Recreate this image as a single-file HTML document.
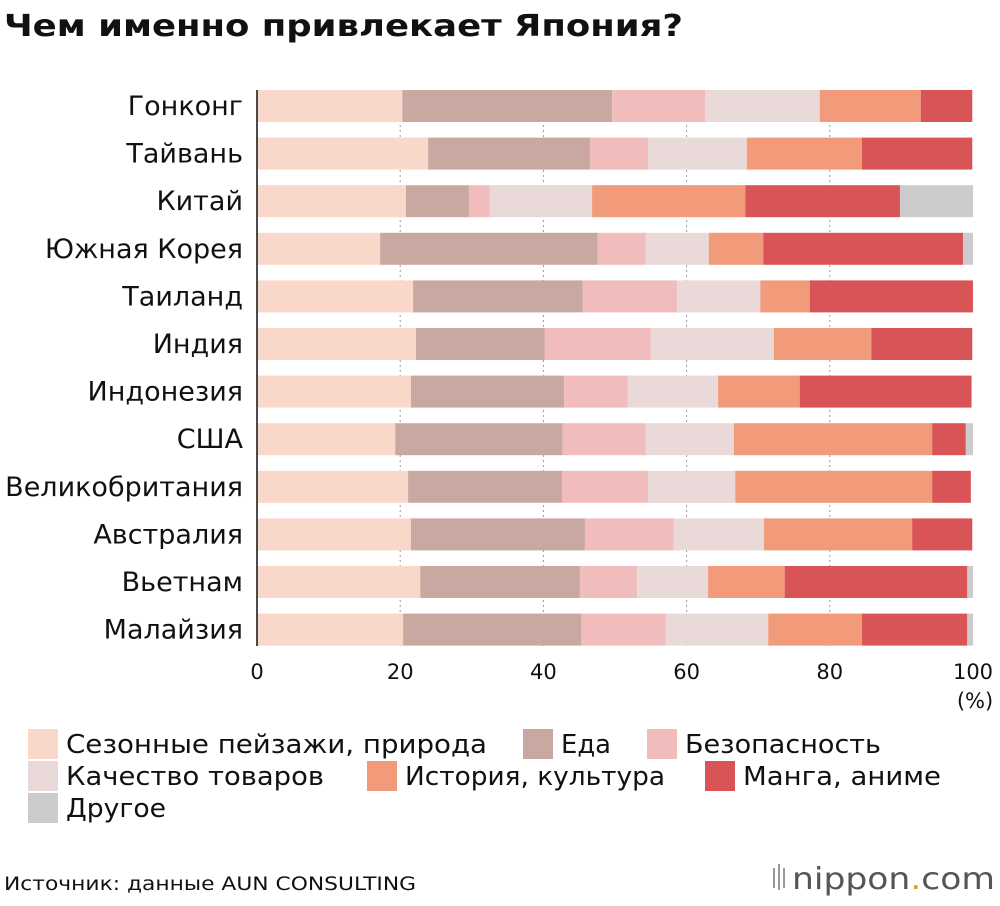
<!DOCTYPE html>
<html><head><meta charset="utf-8"><style>
body{margin:0;background:#fff;width:1000px;height:902px;overflow:hidden;font-family:"DejaVu Sans","Liberation Sans",sans-serif}
</style></head><body>
<svg id="chart" width="1000" height="902" xmlns="http://www.w3.org/2000/svg" font-family="DejaVu Sans, Liberation Sans, sans-serif">
<text x="4" y="36" font-size="30" font-weight="bold" fill="#111" textLength="679" lengthAdjust="spacingAndGlyphs">Чем именно привлекает Япония?</text>
<g id="grid"></g><g id="bars"></g><g id="labels"></g><g id="ticks"></g>
<line x1="257" y1="90" x2="257" y2="646" stroke="#111" stroke-width="1.5"/>
<text x="975" y="708" font-size="21" text-anchor="middle" fill="#111">(%)</text>
<g id="legend"></g>
<text x="4" y="890" font-size="19" fill="#111" textLength="412" lengthAdjust="spacingAndGlyphs">Источник: данные AUN CONSULTING</text>
<g>
<rect x="773" y="868" width="2" height="20" fill="#999"/><rect x="778" y="864" width="2" height="26" fill="#999"/><rect x="783" y="868" width="2" height="20" fill="#999"/>
<text x="792" y="889" font-size="30" fill="#555" textLength="203" lengthAdjust="spacingAndGlyphs">nippon<tspan fill="#d93">.</tspan>com</text>
</g>
</svg>
<script>
const categories=["Гонконг","Тайвань","Китай","Южная Корея","Таиланд","Индия","Индонезия","США","Великобритания","Австралия","Вьетнам","Малайзия"];
const seriesNames=["Сезонные пейзажи, природа","Еда","Безопасность","Качество товаров","История, культура","Манга, аниме","Другое"];
const nature=[20.3,23.9,20.8,17.2,21.8,22.2,21.5,19.3,21.1,21.5,22.8,20.4];
const food=[29.3,22.6,8.8,30.4,23.7,18.0,21.4,23.4,21.5,24.3,22.3,24.9];
const safety=[13.0,8.1,2.9,6.7,13.2,14.8,8.9,11.6,12.0,12.4,8.0,11.8];
const quality=[16.0,13.8,14.3,8.8,11.6,17.2,12.6,12.3,12.2,12.6,9.9,14.3];
const history=[14.1,16.1,21.4,7.6,6.9,13.6,11.4,27.7,27.5,20.7,10.7,13.1];
const manga=[7.2,15.4,21.6,27.9,22.8,14.1,24.0,4.7,5.4,8.4,25.5,14.7];
const other=[0,0,10.2,1.4,0,0,0,1.0,0,0,0.8,0.8];
const ticks=[0,20,40,60,80,100];
const colors=["#f9d8ca","#c9a8a2","#f0bcbc","#ead9d9","#f19b7a","#d95457","#cccccc"];
const series=[nature,food,safety,quality,history,manga,other];
const NS="http://www.w3.org/2000/svg";
const x=v=>257+v*7.16;
const yc=i=>106+i*47.6;
function mk(t,a,p){const e=document.createElementNS(NS,t);for(const k in a)e.setAttribute(k,a[k]);p.appendChild(e);return e;}
const G=document.getElementById('grid'),B=document.getElementById('bars'),L=document.getElementById('labels'),T=document.getElementById('ticks'),LG=document.getElementById('legend');
ticks.forEach(t=>{
 if(t>0&&t<100){const l=mk('line',{x1:x(t),x2:x(t),y1:90,y2:646,stroke:'#999','stroke-dasharray':'2,3'},G);
 
 }
 const tx=mk('text',{x:x(t),y:679,'font-size':21,'text-anchor':'middle',fill:'#111'},T);tx.textContent=t;
 
 
});
categories.forEach((c,i)=>{
 const tl=mk('text',{x:243,y:yc(i)+9,'font-size':27,'text-anchor':'end',fill:'#111'},L);tl.textContent=c;
 
 
 let acc=0;
 series.forEach((s,j)=>{const v=s[i];if(v<=0)return;
  const r=mk('rect',{x:x(acc),y:yc(i)-16,width:v*7.16,height:32,fill:colors[j]},B);
  
  
  acc+=v;});
});
const lp=[[28,744],[523,744],[647,744],[28,776],[367,776],[705,776],[28,808]];
const lw=[421,50,196,258,260,198,100];
seriesNames.forEach((n,j)=>{
 const g=mk('g',{},LG);
 
 
 mk('rect',{x:lp[j][0],y:lp[j][1]-15,width:30,height:30,fill:colors[j]},g);
 const t=mk('text',{x:lp[j][0]+38,y:lp[j][1]+9,'font-size':26,fill:'#111',textLength:lw[j],lengthAdjust:'spacingAndGlyphs'},g);t.textContent=n;
});
</script>
</body></html>
